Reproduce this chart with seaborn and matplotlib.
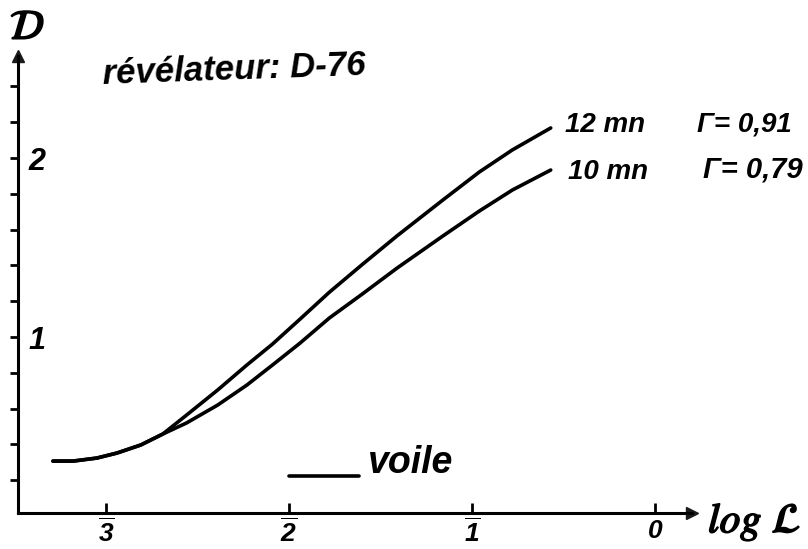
import matplotlib
matplotlib.use("Agg")
import matplotlib.pyplot as plt
import matplotlib.patheffects as pe
import seaborn as sns
import pandas as pd

log_l = [-3.29, -3.18, -3.05, -2.94, -2.81, -2.69, -2.56, -2.39, -2.23, -2.09, -1.94, -1.78, -1.60, -1.41, -1.16, -0.96, -0.78, -0.57]
d_12mn = [0.307, 0.307, 0.324, 0.352, 0.397, 0.458, 0.564, 0.704, 0.844, 0.961, 1.10, 1.25, 1.405, 1.565, 1.765, 1.922, 2.045, 2.168]
d_10mn = [0.307, 0.307, 0.324, 0.352, 0.397, 0.458, 0.52, 0.62, 0.732, 0.844, 0.966, 1.106, 1.24, 1.385, 1.564, 1.704, 1.821, 1.933]
voile_x = [-2.0, -1.62]
voile_d = [0.223, 0.223]

x_ticks = [-3, -2, -1, 0]
x_labels = [r"$\overline{3}$", r"$\overline{2}$", r"$\overline{1}$", "0"]
y_ticks = [0.2, 0.4, 0.6, 0.8, 1.0, 1.2, 1.4, 1.6, 1.8, 2.0, 2.2, 2.4]
y_labels = ["", "", "", "", "1", "", "", "", "", "2", "", ""]

W, H = 808, 549


def px(x, y):
    # picture pixels to figure fraction
    return x / W, 1 - y / H


sns.set_theme(style="ticks")
plt.rcParams["font.family"] = ["Liberation Sans", "DejaVu Sans"]
plt.rcParams["mathtext.fontset"] = "custom"
plt.rcParams["mathtext.rm"] = "Liberation Sans:italic:bold"
plt.rcParams["mathtext.it"] = "Liberation Sans:italic:bold"
plt.rcParams["mathtext.bf"] = "Liberation Sans:italic:bold"

df = pd.concat([
    pd.DataFrame({"log L": log_l, "D": d_12mn, "courbe": "12 mn"}),
    pd.DataFrame({"log L": log_l, "D": d_10mn, "courbe": "10 mn"}),
    pd.DataFrame({"log L": voile_x, "D": voile_d, "courbe": "voile"}),
])

fig = plt.figure(figsize=(W / 100, H / 100), dpi=100, facecolor="white")
ax = fig.add_axes([18 / W, (H - 513) / H, (692 - 18) / W, (513 - 56) / H])
sns.lineplot(data=df, x="log L", y="D", hue="courbe", palette=["black"] * 3,
             linewidth=2.6, legend=False, sort=False, estimator=None, ax=ax)
for line in ax.lines:
    line.set_solid_capstyle("round")
    line.set_solid_joinstyle("round")

ax.set_xlim(-3.481, 0.202)
ax.set_ylim(0.017, 2.57)
ax.set_xlabel("")
ax.set_ylabel("")
sns.despine(ax=ax)
for side in ["left", "bottom"]:
    ax.spines[side].set_color("black")
    ax.spines[side].set_linewidth(2.2)

ax.set_xticks(x_ticks)
ax.set_xticklabels(x_labels, fontsize=19, fontweight="bold", style="italic")
ax.set_yticks(y_ticks)
ax.set_yticklabels(y_labels, fontsize=22, fontweight="bold", style="italic")
ax.tick_params(axis="x", direction="in", length=7, width=2, color="black", labelcolor="black", pad=4)
ax.tick_params(axis="y", direction="out", length=5.5, width=2, color="black", labelcolor="black", pad=-13)
for lab in ax.get_yticklabels():
    lab.set_ha("left")

# arrow heads at the end of the axes
ax.plot(1, 0, ">k", markersize=8, transform=ax.transAxes, clip_on=False)
ax.plot(0, 1, "^k", markersize=8, transform=ax.transAxes, clip_on=False)

hand = dict(color="black", fontweight="bold", style="italic", va="center", ha="left")
fig.text(*px(102, 70), "révélateur: D-76", fontsize=25, rotation=2, **hand)
fig.text(*px(565, 125), "12 mn", fontsize=20, **hand)
fig.text(*px(568, 172), "10 mn", fontsize=20, **hand)
fig.text(*px(697, 124), "Γ= 0,91", fontsize=20, **hand)
fig.text(*px(703, 170), "Γ= 0,79", fontsize=21, **hand)
fig.text(*px(368, 463), "voile", fontsize=27, **hand)

stroke = [pe.withStroke(linewidth=1.2, foreground="black")]
fig.text(*px(10, 28), r"$\mathcal{D}$", fontsize=30, math_fontfamily="stix", color="black",
         va="center", ha="left", path_effects=stroke)
fig.text(*px(708, 522), r"log $\mathcal{L}$", fontsize=30, math_fontfamily="stix", color="black",
         fontfamily="STIXGeneral", style="italic", va="center", ha="left", path_effects=stroke)

fig.savefig("out.png", dpi=100)
